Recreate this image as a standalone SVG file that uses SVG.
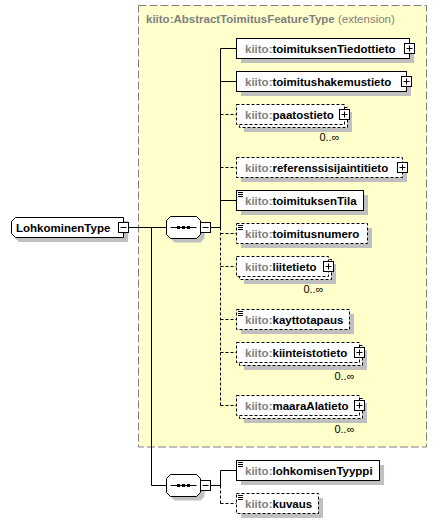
<svg xmlns="http://www.w3.org/2000/svg" xmlns:xlink="http://www.w3.org/1999/xlink" width="442" height="523" viewBox="0 0 442 523">
<style>
.ext{fill:#FFFFCC;stroke:#808080;stroke-width:1;stroke-dasharray:8,3}
.shadow{fill:#C0C0C0;stroke:none}
.box{fill:#FFFFFF;stroke:#000000;stroke-width:1}
.opt{stroke-dasharray:3,2}
.lbl{font-family:"Liberation Sans",Arial,sans-serif;font-size:11.5px;font-weight:bold;fill:#000000}
.ns{fill:#808080}
.title{font-family:"Liberation Sans",Arial,sans-serif;font-size:11.5px;font-weight:bold;fill:#808080}
.titlen{font-weight:normal}
.occ{font-family:"Liberation Sans",Arial,sans-serif;font-size:11px;fill:#000000;text-anchor:end}
.ln{fill:none;stroke:#000000;stroke-width:1}
.dash{stroke-dasharray:3,2}
</style>
<defs>
<g id="plus"><rect x="-5" y="-5" width="10" height="10" fill="#FFFFFF" stroke="#000000"/><path d="M-3,0H3M0,-3V3" stroke="#000000" fill="none"/></g>
<g id="minus"><rect x="-5" y="-5" width="10" height="10" fill="#FFFFFF" stroke="#000000"/><path d="M-3,0H3" stroke="#000000" fill="none"/></g>
<g id="icon"><path d="M0,0H5M0,2H5M0,4H5" stroke="#000000" fill="none"/></g>
<g id="seq">
<polygon points="8,4 34,4 38,8 38,22 34,26 8,26 4,22 4,8" fill="#C0C0C0"/>
<polygon points="4,0 30,0 34,4 34,18 30,22 4,22 0,18 0,4" fill="#FFFFFF" stroke="#000000"/>
<path d="M4,11H30" stroke="#000000" fill="none"/>
<rect x="10.5" y="9.5" width="3" height="3" fill="#000000"/>
<rect x="15.5" y="9.5" width="3" height="3" fill="#000000"/>
<rect x="20.5" y="9.5" width="3" height="3" fill="#000000"/>
<rect x="34" y="6" width="10" height="10" fill="#FFFFFF" stroke="#000000"/>
<path d="M36,11H42" stroke="#000000" fill="none"/>
</g>
</defs>

<g id="extension">
<rect class="ext" x="138.5" y="5.5" width="288" height="441.5"/>
<text class="title" x="146" y="23">kiito:AbstractToimitusFeatureType<tspan class="titlen"> (extension)</tspan></text>
</g>

<g id="connectors">
<path class="ln" d="M128.5,227.5H166.5"/>
<path class="ln" d="M151.5,227.5V485.5H166.5"/>
<path class="ln" d="M210.5,227.5H220.5"/>
<path class="ln" d="M220.5,48.5V227.5"/>
<path class="ln dash" d="M220.5,227.5V405.5"/>
<path class="ln" d="M220.5,48.5H236.5M220.5,81.5H236.5M220.5,200.5H236.5"/>
<path class="ln dash" d="M220.5,114.5H236.5M220.5,167.5H236.5M220.5,233.5H236.5M220.5,266.5H236.5M220.5,319.5H236.5M220.5,352.5H236.5M220.5,405.5H236.5"/>
<path class="ln" d="M210.5,485.5H220.5"/>
<path class="ln" d="M220.5,470.5V485.5H220.5M220.5,470.5H236.5"/>
<path class="ln dash" d="M220.5,485.5V503.5M220.5,503.5H236.5"/>
</g>

<g id="n-LohkominenType">
<polygon points="19,221 128,221 128,242 19,242 15,238 15,225" fill="#C0C0C0"/>
<polygon class="box" points="15.5,217.5 123.5,217.5 123.5,237.5 15.5,237.5 11.5,233.5 11.5,221.5"/>
<text class="lbl" x="16" y="232">LohkominenType</text>
<use xlink:href="#minus" transform="translate(123.5,227.5)"/>
</g>

<g id="n-sequence1">
<use xlink:href="#seq" transform="translate(166.5,216.5)"/>
</g>

<g id="n-sequence2">
<use xlink:href="#seq" transform="translate(166.5,474.5)"/>
</g>

<g id="n-toimituksenTiedottieto">
<rect class="shadow" x="241" y="43" width="173" height="20"/>
<rect class="box" x="236.5" y="38.5" width="173" height="20"/>
<text class="lbl" x="245" y="52.5"><tspan class="ns">kiito:</tspan>toimituksenTiedottieto</text>
<use xlink:href="#plus" transform="translate(409.5,48.5)"/>
</g>

<g id="n-toimitushakemustieto">
<rect class="shadow" x="241" y="76" width="170" height="20"/>
<rect class="box" x="236.5" y="71.5" width="170" height="20"/>
<text class="lbl" x="245" y="85.5"><tspan class="ns">kiito:</tspan>toimitushakemustieto</text>
<use xlink:href="#plus" transform="translate(406.5,81.5)"/>
</g>

<g id="n-paatostieto">
<rect class="shadow" x="244" y="112" width="108" height="20"/>
<rect class="box opt" x="239.5" y="107.5" width="108" height="20"/>
<rect class="box opt" x="236.5" y="104.5" width="108" height="20"/>
<text class="lbl" x="245" y="118.5"><tspan class="ns">kiito:</tspan>paatostieto</text>
<use xlink:href="#plus" transform="translate(344.5,114.5)"/>
<text class="occ" x="339.5" y="141">0..∞</text>
</g>

<g id="n-referenssisijaintitieto">
<rect class="shadow" x="241" y="162" width="166" height="20"/>
<rect class="box opt" x="236.5" y="157.5" width="166" height="20"/>
<text class="lbl" x="245" y="171.5"><tspan class="ns">kiito:</tspan>referenssisijaintitieto</text>
<use xlink:href="#plus" transform="translate(402.5,167.5)"/>
</g>

<g id="n-toimituksenTila">
<rect class="shadow" x="241" y="195" width="127" height="20"/>
<rect class="box" x="236.5" y="190.5" width="127" height="20"/>
<use xlink:href="#icon" transform="translate(238,192.5)"/>
<text class="lbl" x="245" y="204.5"><tspan class="ns">kiito:</tspan>toimituksenTila</text>
</g>

<g id="n-toimitusnumero">
<rect class="shadow" x="241" y="228" width="131" height="20"/>
<rect class="box opt" x="236.5" y="223.5" width="131" height="20"/>
<use xlink:href="#icon" transform="translate(238,225.5)"/>
<text class="lbl" x="245" y="237.5"><tspan class="ns">kiito:</tspan>toimitusnumero</text>
</g>

<g id="n-liitetieto">
<rect class="shadow" x="244" y="264" width="92" height="20"/>
<rect class="box opt" x="239.5" y="259.5" width="92" height="20"/>
<rect class="box opt" x="236.5" y="256.5" width="92" height="20"/>
<text class="lbl" x="245" y="270.5"><tspan class="ns">kiito:</tspan>liitetieto</text>
<use xlink:href="#plus" transform="translate(328.5,266.5)"/>
<text class="occ" x="323.5" y="293">0..∞</text>
</g>

<g id="n-kayttotapaus">
<rect class="shadow" x="241" y="314" width="113" height="20"/>
<rect class="box opt" x="236.5" y="309.5" width="113" height="20"/>
<use xlink:href="#icon" transform="translate(238,311.5)"/>
<text class="lbl" x="245" y="323.5"><tspan class="ns">kiito:</tspan>kayttotapaus</text>
</g>

<g id="n-kiinteistotieto">
<rect class="shadow" x="244" y="350" width="123" height="20"/>
<rect class="box opt" x="239.5" y="345.5" width="123" height="20"/>
<rect class="box opt" x="236.5" y="342.5" width="123" height="20"/>
<text class="lbl" x="245" y="356.5"><tspan class="ns">kiito:</tspan>kiinteistotieto</text>
<use xlink:href="#plus" transform="translate(359.5,352.5)"/>
<text class="occ" x="354.5" y="379.5">0..∞</text>
</g>

<g id="n-maaraAlatieto">
<rect class="shadow" x="244" y="403" width="123" height="20"/>
<rect class="box opt" x="239.5" y="398.5" width="123" height="20"/>
<rect class="box opt" x="236.5" y="395.5" width="123" height="20"/>
<text class="lbl" x="245" y="409.5"><tspan class="ns">kiito:</tspan>maaraAlatieto</text>
<use xlink:href="#plus" transform="translate(359.5,405.5)"/>
<text class="occ" x="354.5" y="432.5">0..∞</text>
</g>

<g id="n-lohkomisenTyyppi">
<rect class="shadow" x="241" y="465" width="143" height="20"/>
<rect class="box" x="236.5" y="460.5" width="143" height="20"/>
<use xlink:href="#icon" transform="translate(238,462.5)"/>
<text class="lbl" x="245" y="474.5"><tspan class="ns">kiito:</tspan>lohkomisenTyyppi</text>
</g>

<g id="n-kuvaus">
<rect class="shadow" x="241" y="498" width="82" height="20"/>
<rect class="box opt" x="236.5" y="493.5" width="82" height="20"/>
<use xlink:href="#icon" transform="translate(238,495.5)"/>
<text class="lbl" x="245" y="507.5"><tspan class="ns">kiito:</tspan>kuvaus</text>
</g>
</svg>
